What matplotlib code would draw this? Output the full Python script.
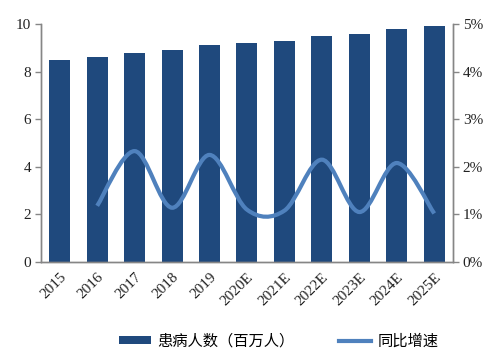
import matplotlib
matplotlib.use("Agg")
import matplotlib.pyplot as plt
from matplotlib.path import Path
from matplotlib.patches import PathPatch
from matplotlib.lines import Line2D
from matplotlib.patches import Patch
import numpy as np

years = ["2015", "2016", "2017", "2018", "2019", "2020E", "2021E", "2022E", "2023E", "2024E", "2025E"]
patients = [8.5, 8.6, 8.8, 8.9, 9.1, 9.2, 9.3, 9.5, 9.6, 9.8, 9.9]
growth = [None, 1.18, 2.33, 1.14, 2.25, 1.10, 1.08, 2.15, 1.05, 2.08, 1.02]  # percent
y_ticks = [0, 2, 4, 6, 8, 10]
y2_ticks = [0, 1, 2, 3, 4, 5]
bar_label = "患病人数（百万人）"
line_label = "同比增速"

bar_color = "#1F497D"
line_color = "#4F81BD"
axis_color = "#868686"
num_font = "Liberation Serif"
cjk_font = ["Noto Sans CJK SC", "DejaVu Sans"]
fs = 11

fig = plt.figure(figsize=(4.98, 3.56), dpi=100)
ax = fig.add_axes([0.0823, 0.264, 0.8273, 0.6686])
ax2 = ax.twinx()

x = np.arange(len(years))
ax.bar(x, patients, width=0.56, color=bar_color, zorder=2)
ax.set_xlim(-0.5, len(years) - 0.5)
ax.set_ylim(0, 10)
ax.set_yticks(y_ticks)
ax.set_yticklabels([str(v) for v in y_ticks], fontfamily=num_font, fontsize=fs, color="#222222")
ax.set_xticks(x)
ax.set_xticklabels(years, rotation=45, ha="right", va="top", rotation_mode="anchor",
                   fontfamily=num_font, fontsize=fs, color="#222222")
ax.tick_params(axis="x", length=0, pad=6)
ax.tick_params(axis="y", length=4, width=1, color=axis_color, pad=3)

ax2.set_ylim(0, 5)
ax2.set_yticks(y2_ticks)
ax2.set_yticklabels([f"{v}%" for v in y2_ticks], fontfamily=num_font, fontsize=fs, color="#222222")
ax2.tick_params(axis="y", length=4, width=1, color=axis_color, pad=3)

for a in (ax, ax2):
    a.spines["top"].set_visible(False)
    for s in ("left", "right", "bottom"):
        a.spines[s].set_color(axis_color)
        a.spines[s].set_linewidth(1)

# smooth line (cubic Bezier through the data points, Catmull-Rom style)
pts = [(xi, g) for xi, g in zip(x, growth) if g is not None]
px = np.array([p[0] for p in pts], dtype=float)
py = np.array([p[1] for p in pts], dtype=float)
verts = [(px[0], py[0])]
codes = [Path.MOVETO]
n = len(px)
t = 1.0 / 6.0
for i in range(n - 1):
    p0 = (px[max(i - 1, 0)], py[max(i - 1, 0)])
    p1 = (px[i], py[i])
    p2 = (px[i + 1], py[i + 1])
    p3 = (px[min(i + 2, n - 1)], py[min(i + 2, n - 1)])
    c1 = (p1[0] + (p2[0] - p0[0]) * t, p1[1] + (p2[1] - p0[1]) * t)
    c2 = (p2[0] - (p3[0] - p1[0]) * t, p2[1] - (p3[1] - p1[1]) * t)
    verts += [c1, c2, p2]
    codes += [Path.CURVE4] * 3
ax2.add_patch(PathPatch(Path(verts, codes), facecolor="none", edgecolor=line_color,
                        linewidth=3, capstyle="butt", zorder=3))

handles = [Patch(facecolor=bar_color, edgecolor="none"),
           Line2D([0], [0], color=line_color, linewidth=3)]
fig.legend(handles, [bar_label, line_label], loc="center", bbox_to_anchor=(0.56, 0.042),
           ncol=2, frameon=False, prop={"family": cjk_font, "size": fs},
           handlelength=2.1, handleheight=0.4, columnspacing=2.9, handletextpad=0.4,
           borderpad=0, borderaxespad=0)

fig.savefig("out.png", dpi=100)
